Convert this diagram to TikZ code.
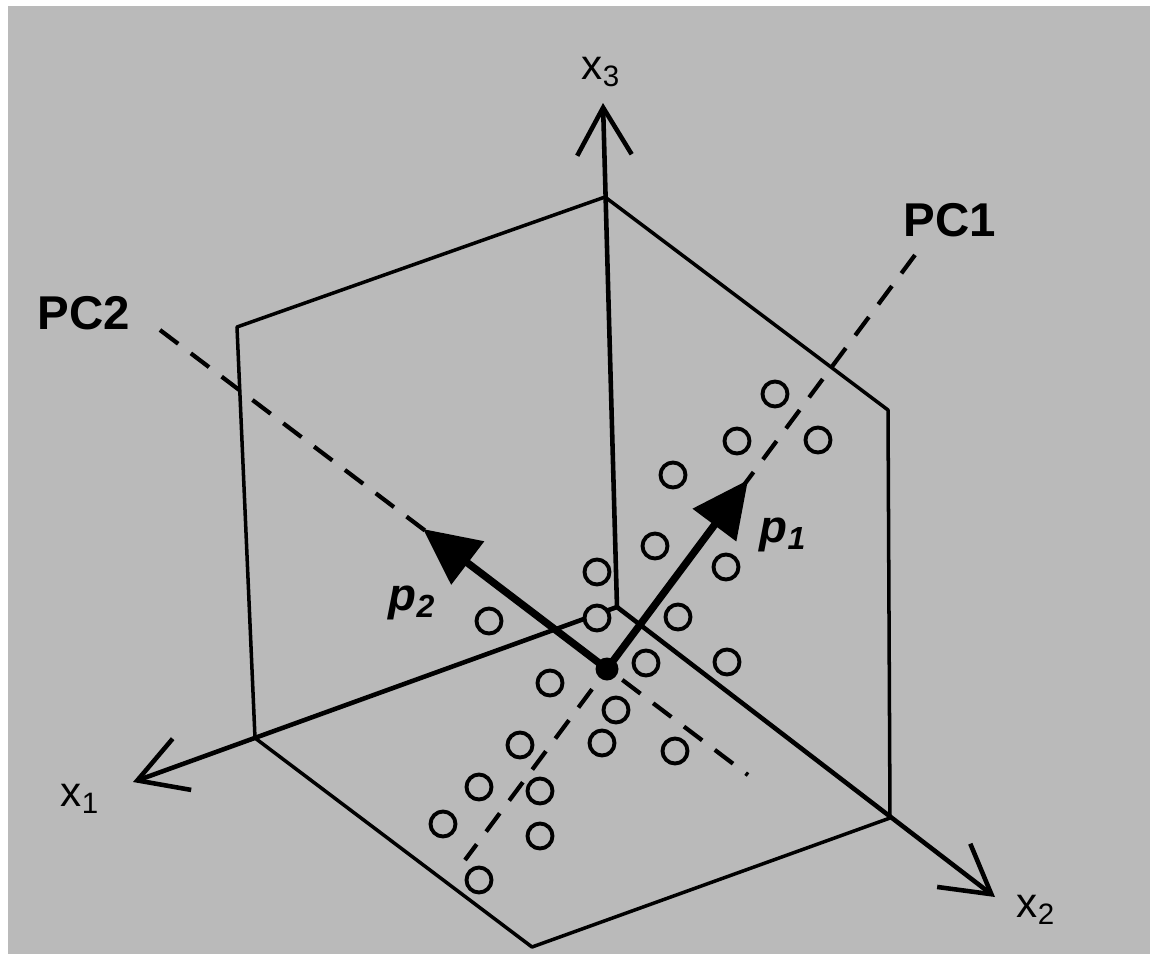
\documentclass[tikz,border=0pt]{standalone}
\usepackage{fontspec}
\setmainfont{Liberation Sans}
\usetikzlibrary{arrows.meta}

\begin{document}
\begin{tikzpicture}[x=0.02cm,y=-0.02cm,
  edge/.style={line width=2pt, line join=round},
  axis/.style={line width=2.6pt, -{Straight Barb[length=27pt,width=31pt]}},
  pcline/.style={line width=2.4pt, dash pattern=on 13pt off 9pt},
  loading/.style={line width=4.2pt, -{Triangle[length=32pt,width=30pt]}},
  obj/.style={line width=2.2pt, draw=black, fill=pagegray},
  axlabel/.style={font=\fontsize{24}{26}\selectfont},
  pclabel/.style={font=\fontsize{27}{30}\selectfont\bfseries},
  plabel/.style={font=\fontsize{26}{28}\selectfont\bfseries\itshape}]
\definecolor{pagegray}{RGB}{186,186,186}
\useasboundingbox (0,0) rectangle (1150,954);
\fill[white] (0,0) rectangle (1150,954);
\fill[pagegray] (8,6) rectangle (1150,954);
% corners of the box
\coordinate (O) at (617,607);
\coordinate (A1) at (255,738);
\coordinate (A2) at (890,818);
\coordinate (A3) at (605,197);
\coordinate (B12) at (532,947);
\coordinate (B13) at (237,327);
\coordinate (B23) at (888,410);
% axis tips
\coordinate (T1) at (133,782);
\coordinate (T2) at (995,897);
\coordinate (T3) at (603,103);
% ends of the principal component lines
\coordinate (PC1a) at (915,255);
\coordinate (PC1b) at (465,860);
\coordinate (PC2a) at (160,330);
\coordinate (PC2b) at (748,775);
\coordinate (P1) at (748,480);
\coordinate (P2) at (423,529);
% box edges
\draw[edge] (A1) -- (B13) -- (A3) -- (B23) -- (A2) -- (B12) -- (A1);
% coordinate axes
\draw[axis] (O) -- (T1);
\draw[axis] (O) -- (T2);
\draw[axis] (O) -- (T3);
% PC directions
\draw[pcline] (PC1a) -- (PC1b);
\draw[pcline] (PC2a) -- (PC2b);
% objects
\foreach \px/\py in {775/394, 737/441, 818/440, 673/475, 655/546, 726/567,
  597/572, 597/618, 489/621, 678/617, 646/663, 727/662, 550/683, 616/710,
  520/745, 602/743, 675/751, 479/787, 540/791, 443/824, 540/836, 479/880}
  \draw[obj] (\px,\py) circle (12.5);
% centre and loading vectors
\node (c) [circle, fill=black, inner sep=0pt, minimum size=0.46cm] at (607,669) {};
\draw[loading] (c.center) -- (P1);
\draw[loading] (c.center) -- (P2);
% labels
\node[axlabel] (lx1) at (80,799) {x\textsubscript{1}};
\node[axlabel] (lx2) at (1036,910) {x\textsubscript{2}};
\node[axlabel] (lx3) at (601,72) {x\textsubscript{3}};
\node[pclabel] (lpc1) at (950,220) {PC1};
\node[pclabel] (lpc2) at (84,313) {PC2};
\node[plabel] (lp1) at (783,535) {p\textsubscript{1}};
\node[plabel] (lp2) at (412,603) {p\textsubscript{2}};
\end{tikzpicture}
\end{document}
